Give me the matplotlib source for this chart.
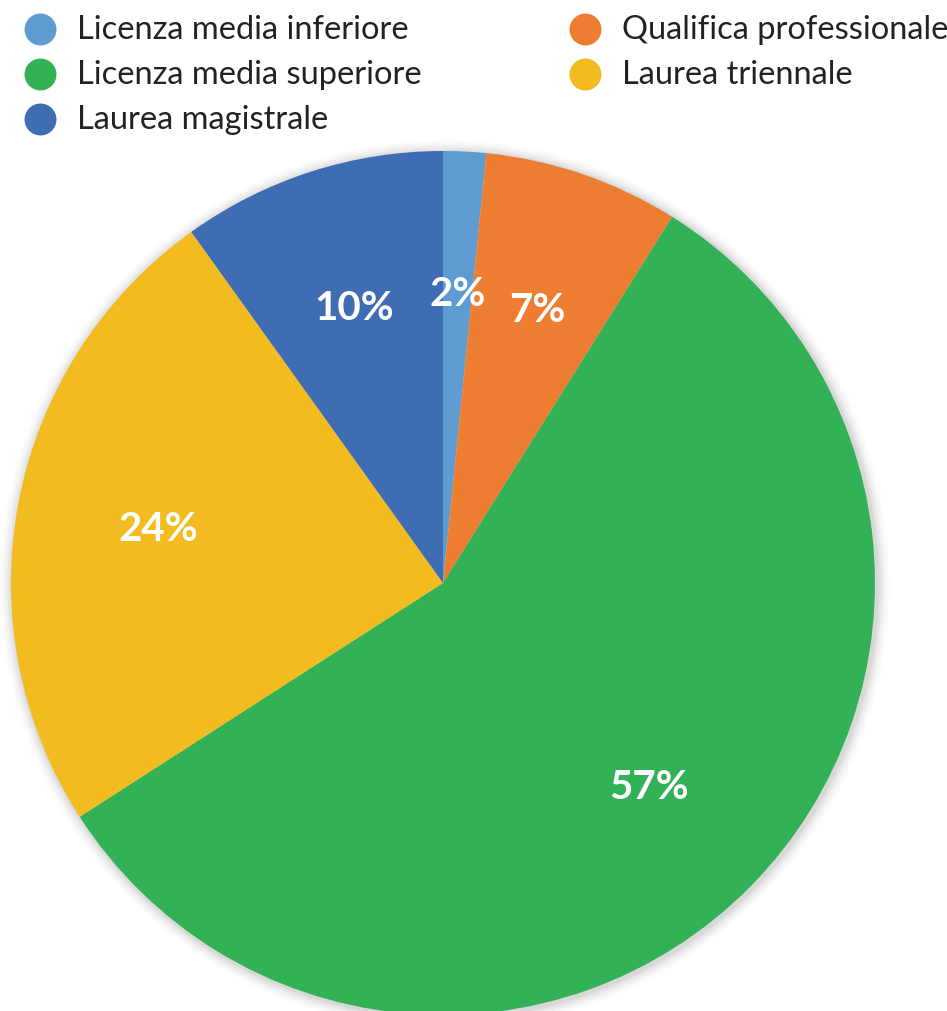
import matplotlib
matplotlib.use("Agg")
import matplotlib.pyplot as plt
from matplotlib.patches import Circle
import numpy as np

plt.rcParams['font.family'] = ['Lato', 'DejaVu Sans']

categories = ["Licenza media inferiore", "Qualifica professionale",
              "Licenza media superiore", "Laurea triennale", "Laurea magistrale"]
values = [1.6, 7.3, 57.0, 24.2, 9.9]
labels_pct = ["2%", "7%", "57%", "24%", "10%"]
colors = ["#5E9BD1", "#ED7E31", "#33B156", "#F2BB1F", "#3F6DB4"]

W, H = 947, 1012
fig = plt.figure(figsize=(W / 100, H / 100), dpi=100)

cx, cy, R = 443, 584, 432
ax = fig.add_axes([(cx - R) / W, (H - cy - R) / H, 2 * R / W, 2 * R / H])

wedges, _ = ax.pie(values, colors=colors, startangle=90, counterclock=False,
                   radius=1, center=(0, 0), frame=False,
                   wedgeprops=dict(linewidth=0))
for w in wedges:
    w.set_clip_on(False)
    w.set_zorder(2)

# soft shadow
for i, a in enumerate([0.05, 0.04, 0.03, 0.02, 0.012]):
    ax.add_patch(Circle((0.004, -0.004), 1 + 0.006 * (i + 1), color='black',
                        alpha=a, lw=0, zorder=0, clip_on=False))

ax.set_aspect('auto')
ax.set_xlim(-1, 1)
ax.set_ylim(-1, 1)
ax.axis('off')

total = sum(values)
cum = 0
for v, lab in zip(values, labels_pct):
    mid = 90 - 360 * (cum + v / 2) / total
    cum += v
    r = 0.67
    ax.text(r * np.cos(np.radians(mid)), r * np.sin(np.radians(mid)), lab,
            ha='center', va='center', color='white', fontsize=29,
            fontweight='bold', zorder=5)

# legend
lax = fig.add_axes([0, 0, 1, 1])
lax.set_xlim(0, W)
lax.set_ylim(H, 0)
lax.axis('off')
legend_pos = [(40, 30), (585, 30), (40, 75), (585, 75), (40, 120)]
for (x, y), name, col in zip(legend_pos, categories, colors):
    lax.scatter([x], [y], s=(23) ** 2, color=col, lw=0)
    lax.text(x + 37, y, name, ha='left', va='center', fontsize=23.5,
             color='#222222')

fig.savefig("out.png", dpi=100)
